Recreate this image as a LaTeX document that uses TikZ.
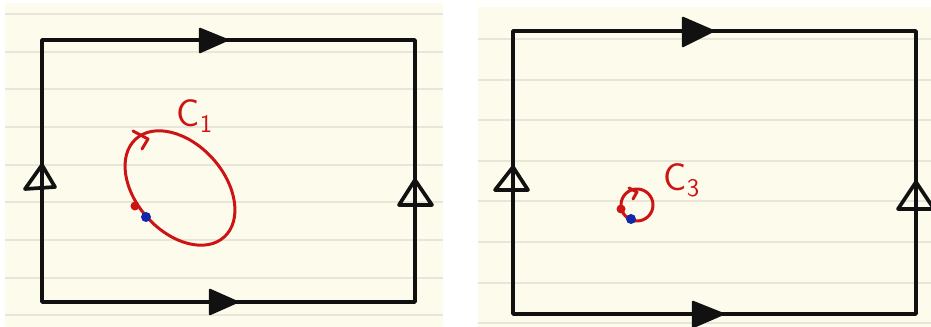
\documentclass[tikz,border=0pt]{standalone}
\usepackage{tikz}
\usetikzlibrary{arrows.meta}
\definecolor{paper}{HTML}{FDFBEC}
\definecolor{rule}{HTML}{E8E6D9}
\definecolor{ink}{HTML}{111111}
\definecolor{pen}{HTML}{CC1414}
\definecolor{dotblue}{HTML}{1128A8}

\begin{document}
\begin{tikzpicture}[x=0.02cm,y=-0.02cm,
    frame/.style={draw=ink,line width=2.1pt,line join=round},
    headfill/.style={fill=ink,draw=ink,line width=1.4pt,line join=round},
    headopen/.style={draw=ink,line width=2.1pt,line join=round},
    pencurve/.style={draw=pen,line width=1.7pt,line cap=round,line join=round},
    lbl/.style={text=pen,font=\sffamily\fontsize{22}{24}\selectfont,inner sep=0pt}]
  \useasboundingbox (0,0) rectangle (931,327);
  % ruled paper, two sheets
  \fill[paper] (5,3) rectangle (443,327);
  \fill[paper] (478,7) rectangle (931,327);
  \foreach \y in {14,52,89,127,165,202,240,278,315}
    \draw[rule,line width=0.6pt] (5,\y) -- (443,\y);
  \foreach \y in {39,80,120,161,201,242,283,323}
    \draw[rule,line width=0.6pt] (478,\y) -- (931,\y);
  % left contour
  \draw[frame] (42,40) rectangle (415,302);
  \draw[headfill] (200,29) -- (227,40) -- (200,52) -- cycle;
  \draw[headfill] (210,290) -- (237,302) -- (210,314) -- cycle;
  \draw[headopen] (42,165) -- (55,187) -- (25,189) -- cycle;
  \draw[headopen] (415,180) -- (432,205) -- (399,205) -- cycle;
  % loop C1
  \draw[pencurve,rotate around={-48:(180,188)}] (180,188) ellipse [x radius=66, y radius=44];
  \draw[pencurve] (133,131) -- (148,139) -- (142,149);
  \fill[pen] (135,206) circle [radius=4.5];
  \fill[dotblue] (146,217) circle [radius=5];
  \node[lbl] (c1) at (195,116) {C$_{\mathsf{1}}$};
  % right contour
  \draw[frame] (513,31) rectangle (916,314);
  \draw[headfill] (683,18) -- (713,31) -- (683,46) -- cycle;
  \draw[headfill] (693,302) -- (723,314) -- (693,327) -- cycle;
  \draw[headopen] (513,167) -- (528,190) -- (495,190) -- cycle;
  \draw[headopen] (916,182) -- (934,209) -- (898,209) -- cycle;
  % loop C3
  \draw[pencurve] (637,205) circle [radius=16];
  \draw[pencurve] (629,188) -- (637,192) -- (633,199);
  \fill[pen] (621,209) circle [radius=4.5];
  \fill[dotblue] (631,219) circle [radius=5];
  \node[lbl] (c3) at (682,180) {C$_{\mathsf{3}}$};
\end{tikzpicture}
\end{document}
